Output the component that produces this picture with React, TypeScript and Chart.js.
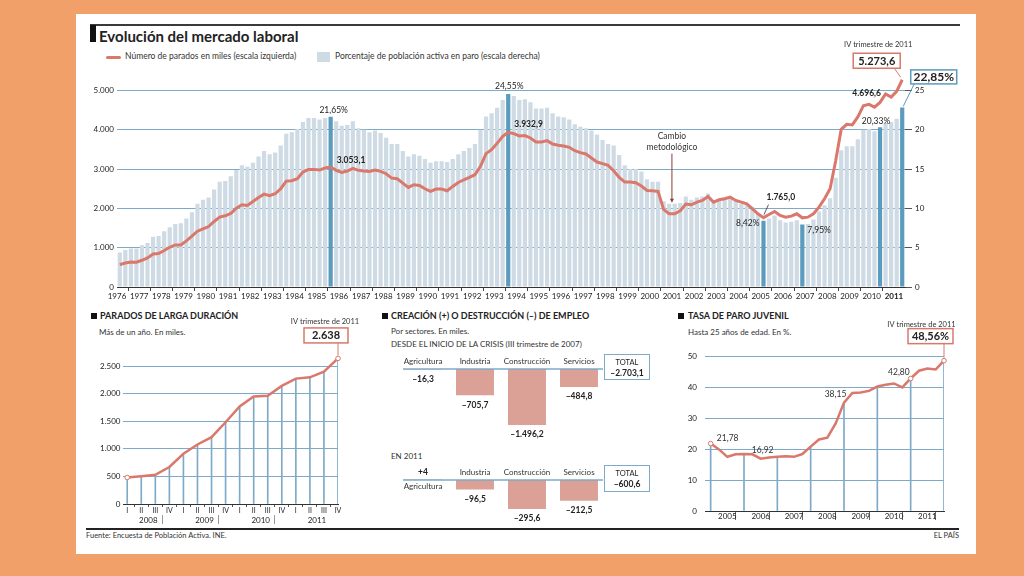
import React, { useEffect, useRef } from 'react';
import { Chart, registerables } from 'chart.js';

Chart.register(...registerables);

const FONT = 'Lato, "Open Sans", "DejaVu Sans", sans-serif';
const ORANGE = '#f0a068';
const RED = '#d9786b';
const LIGHT_BAR = '#cfdbe4';
const HL_BAR = '#5b9bbe';
const GRID = '#7eaac8';
const INK = '#222';
const SECTOR_BAR = '#dba096';

// ---------------- Main chart data (quarterly, 1976-III .. 2011-IV) ----------------
const ROMAN = ['I', 'II', 'III', 'IV'];
const MAIN_YEARS = Array.from({ length: 36 }, (_, i) => String(1976 + i));
const MAIN_LABELS: string[] = [];
MAIN_YEARS.forEach((y, yi) =>
  ROMAN.forEach((q, qi) => {
    if (yi === 0 && qi < 2) return;
    MAIN_LABELS.push(`${y}-${q}`);
  })
);

// Número de parados en miles (escala izquierda)
const UNEMPLOYED = [
  570, 612,
  638, 629, 680, 740,
  842, 850, 927, 1012,
  1071, 1071, 1173, 1292,
  1420, 1480, 1539, 1667,
  1777, 1811, 1871, 2007,
  2092, 2075, 2177, 2279,
  2364, 2321, 2372, 2500,
  2695, 2704, 2755, 2925,
  2993, 2993, 2976, 3027,
  3053.1, 2968, 2917, 2950,
  3019, 2968, 2950, 2942,
  2976, 2942, 2882, 2772,
  2755, 2644, 2534, 2602,
  2585, 2500, 2432, 2491,
  2491, 2449, 2559, 2661,
  2729, 2789, 2857, 3070,
  3393, 3495, 3656, 3835,
  3932.9, 3903, 3843, 3852,
  3792, 3690, 3690, 3724,
  3639, 3605, 3588, 3554,
  3469, 3418, 3384, 3282,
  3180, 3138, 3095, 2959,
  2789, 2670, 2670, 2653,
  2568, 2457, 2449, 2432,
  1973, 1862, 1862, 1939,
  2109, 2092, 2160, 2202,
  2304, 2160, 2219, 2245,
  2287, 2202, 2160, 2117,
  1990, 1862, 1765.0, 1845,
  1922, 1820, 1777, 1803,
  1862, 1760, 1777, 1862,
  2032, 2245, 2500, 3208,
  4011, 4138, 4123, 4327,
  4613, 4646, 4575, 4696.6,
  4910, 4834, 4978, 5273.6,
];

// Porcentaje de población activa en paro (escala derecha)
const RATE = [
  4.4, 4.7,
  4.9, 4.9, 5.3, 5.6,
  6.4, 6.5, 7.1, 7.6,
  8.0, 8.1, 8.7, 9.5,
  10.6, 11.1, 11.4, 12.4,
  13.4, 13.5, 14.1, 14.9,
  15.5, 15.3, 15.8, 16.6,
  17.3, 16.9, 17.1, 18.0,
  19.5, 19.7, 20.1, 21.0,
  21.5, 21.5, 21.3, 21.5,
  21.65, 21.1, 20.5, 20.6,
  21.1, 20.2, 20.0, 19.7,
  19.9, 19.6, 19.0, 18.2,
  18.2, 17.3, 16.6, 16.9,
  16.7, 16.3, 15.8, 16.0,
  16.0, 15.9, 16.3, 16.9,
  17.3, 17.7, 18.2, 20.0,
  21.7, 22.1, 22.8, 23.8,
  24.55, 24.3, 23.8, 23.9,
  23.5, 22.7, 22.7, 22.8,
  22.1, 21.7, 21.6, 21.3,
  20.7, 20.4, 20.2, 19.9,
  19.4, 18.7, 18.2, 18.0,
  16.8, 15.5, 15.0, 15.0,
  14.7, 13.7, 13.4, 13.4,
  10.9, 10.6, 10.6, 10.7,
  11.5, 11.1, 11.4, 11.5,
  11.9, 10.9, 11.0, 11.3,
  11.4, 10.9, 10.6, 10.5,
  10.2, 9.3, 8.42, 8.7,
  9.1, 8.5, 8.2, 8.3,
  8.5, 7.95, 8.0, 8.6,
  9.6, 10.4, 11.3, 13.9,
  17.4, 17.9, 17.9, 18.8,
  20.0, 20.1, 19.8, 20.33,
  20.9, 21.0, 21.4, 22.85,
];

const HIGHLIGHTED = ['1986-I', '1994-I', '2005-III', '2007-II', '2010-IV', '2011-IV'];
const MAIN_LEFT_TICKS = [0, 1000, 2000, 3000, 4000, 5000];
const MAIN_RIGHT_TICKS = [0, 5, 10, 15, 20, 25];

// ---------------- Parados de larga duración ----------------
const LT_YEARS = ['2008', '2009', '2010', '2011'];
const LT_QUARTERS = ['I', 'II', 'III', 'IV', 'I', 'II', 'III', 'IV', 'I', 'II', 'III', 'IV', 'I', 'II', 'III', 'IV'];
const LONG_TERM = [480, 504, 528, 671, 911, 1079, 1211, 1481, 1768, 1948, 1960, 2140, 2272, 2296, 2398, 2638];
const LT_TICKS = [0, 500, 1000, 1500, 2000, 2500];

// ---------------- Creación / destrucción de empleo ----------------
const SECTORS = ['Agricultura', 'Industria', 'Construcción', 'Servicios'];
const CRISIS_CHANGE = [-16.3, -705.7, -1496.2, -484.8];
const CRISIS_TOTAL = -2703.1;
const CHANGE_2011 = [4, -96.5, -295.6, -212.5];
const TOTAL_2011 = -600.6;

// ---------------- Tasa de paro juvenil ----------------
const YOUTH_YEARS = ['2005', '2006', '2007', '2008', '2009', '2010', '2011'];
const YOUTH_RATE = [
  21.78, 19.9, 17.5, 18.3, 18.4, 18.3, 16.92, 17.3, 17.5, 17.7, 17.5, 18.4, 20.8, 23.1, 23.7,
  28.3, 35.0, 38.15, 38.3, 38.8, 40.2, 40.8, 41.2, 39.9, 42.8, 45.3, 46.0, 45.7, 48.56,
];
const YOUTH_LABELED = [0, 6, 17, 24];
const YOUTH_TICKS = [0, 10, 20, 30, 40, 50];

// ---------------- helpers ----------------
function fmtEs(v: number, dec: number, sign = false) {
  const neg = v < 0;
  const s = Math.abs(v).toFixed(dec);
  const parts = s.split('.');
  const int = parts[0].replace(/\B(?=(\d{3})+(?!\d))/g, '.');
  let out = parts[1] ? int + ',' + parts[1] : int;
  if (neg) out = '\u2013' + out;
  else if (sign && v > 0) out = '+' + out;
  return out;
}

function txt(ctx: any, s: string, x: number, y: number, o: any = {}) {
  ctx.save();
  ctx.font = `${o.bold ? 'bold ' : ''}${o.size ?? 8.5}px ${FONT}`;
  ctx.fillStyle = o.color ?? INK;
  ctx.textAlign = o.align ?? 'center';
  ctx.textBaseline = 'middle';
  ctx.fillText(s, x, y);
  ctx.restore();
}

function seg(ctx: any, x1: number, y1: number, x2: number, y2: number, color: string, w = 1) {
  ctx.save();
  ctx.strokeStyle = color;
  ctx.lineWidth = w;
  ctx.beginPath();
  ctx.moveTo(x1, y1);
  ctx.lineTo(x2, y2);
  ctx.stroke();
  ctx.restore();
}

function callout(ctx: any, cx: number, cy: number, w: number, h: number, border: string, s: string, size: number) {
  ctx.save();
  ctx.fillStyle = '#fff';
  ctx.fillRect(cx - w / 2, cy - h / 2, w, h);
  ctx.strokeStyle = border;
  ctx.lineWidth = 1.5;
  ctx.strokeRect(cx - w / 2, cy - h / 2, w, h);
  ctx.restore();
  txt(ctx, s, cx, cy + 0.5, { bold: true, size });
}

const TRANSPARENT = 'rgba(0,0,0,0)';

// ---------------- chart configs ----------------
const mainAnnotations = {
  id: 'mainAnn',
  afterDatasetsDraw(chart: any) {
    const ctx = chart.ctx;
    const bar = (i: number) => chart.getDatasetMeta(0).data[i];
    const pt = (i: number) => chart.getDatasetMeta(1).data[i];
    const I = (lab: string) => MAIN_LABELS.indexOf(lab);
    const pct = (i: number) => fmtEs(RATE[i], 2) + '%';
    const val = (i: number) => fmtEs(UNEMPLOYED[i], 1);

    let i = I('1986-I');
    txt(ctx, pct(i), bar(i).x + 3, bar(i).y - 7);
    txt(ctx, val(i), pt(i).x + 6, pt(i).y - 7, { bold: true, align: 'left' });

    i = I('1994-I');
    txt(ctx, pct(i), bar(i).x + 1, bar(i).y - 8);
    txt(ctx, val(i), pt(i).x + 6, pt(i).y - 8, { bold: true, align: 'left' });

    const a = bar(I('2001-II'));
    const b = bar(I('2001-III'));
    const cx = (a.x + b.x) / 2;
    const top = Math.min(a.y, b.y);
    txt(ctx, 'Cambio', cx, top - 67, { color: '#333' });
    txt(ctx, 'metodológico', cx, top - 56, { color: '#333' });
    seg(ctx, cx, top - 50, cx, top - 3, '#8a3b33', 1);
    ctx.save();
    ctx.fillStyle = '#8a3b33';
    ctx.beginPath();
    ctx.moveTo(cx - 2, top - 5);
    ctx.lineTo(cx + 2, top - 5);
    ctx.lineTo(cx, top - 1);
    ctx.closePath();
    ctx.fill();
    ctx.restore();

    i = I('2005-III');
    txt(ctx, pct(i), bar(i).x - 4, bar(i).y + 2, { align: 'right' });
    txt(ctx, val(i), pt(i).x + 3, pt(i).y - 20, { bold: true, align: 'left' });
    seg(ctx, pt(i).x + 0.5, pt(i).y - 3, pt(i).x + 5, pt(i).y - 13, '#333', 0.8);

    i = I('2007-II');
    txt(ctx, pct(i), bar(i).x + 5, bar(i).y + 6, { align: 'left' });

    i = I('2010-IV');
    txt(ctx, pct(i), bar(i).x - 4, bar(i).y - 6);
    txt(ctx, val(i), pt(i).x + 1, pt(i).y - 9, { bold: true, align: 'right' });

    i = MAIN_LABELS.length - 1;
    const [yr, q] = MAIN_LABELS[i].split('-');
    const p = pt(i);
    txt(ctx, `${q} trimestre de ${yr}`, p.x - 24, p.y - 35, { size: 7.5, color: '#333' });
    seg(ctx, p.x - 8, p.y - 11.5, p.x - 1.5, p.y - 2.5, RED, 1);
    callout(ctx, p.x - 25.5, p.y - 19, 47, 15, RED, val(i), 11);
    const bb = bar(i);
    seg(ctx, bb.x + 12, bb.y - 23.5, bb.x + 1, bb.y - 1, HL_BAR, 1);
    callout(ctx, bb.x + 31.5, bb.y - 30.5, 46, 14, HL_BAR, pct(i), 12);
  },
};

function mainConfig(): any {
  return {
    type: 'bar',
    data: {
      labels: MAIN_LABELS,
      datasets: [
        {
          type: 'bar',
          data: RATE,
          yAxisID: 'y2',
          backgroundColor: (c: any) => (HIGHLIGHTED.includes(MAIN_LABELS[c.dataIndex]) ? HL_BAR : LIGHT_BAR),
          barPercentage: 0.76,
          categoryPercentage: 1,
          order: 2,
        },
        {
          type: 'line',
          data: UNEMPLOYED,
          yAxisID: 'y',
          borderColor: RED,
          borderWidth: 3,
          tension: 0,
          pointRadius: (c: any) => (c.dataIndex === UNEMPLOYED.length - 1 ? 2.5 : 0),
          pointBackgroundColor: '#fff',
          pointBorderColor: RED,
          pointBorderWidth: 1.2,
          clip: false,
          order: 1,
        },
      ],
    },
    options: {
      responsive: false,
      animation: false,
      layout: { padding: { top: 50.5, right: 30, left: 0, bottom: 0 } },
      plugins: { legend: { display: false }, tooltip: { enabled: false } },
      scales: {
        x: {
          type: 'category',
          offset: true,
          grid: {
            offset: true,
            drawOnChartArea: false,
            drawTicks: true,
            tickLength: 4,
            tickColor: (c: any) => {
              if (c.index === undefined || c.index === 0) return TRANSPARENT;
              const lab = MAIN_LABELS[c.index];
              return lab && lab.endsWith('-I') ? '#444' : TRANSPARENT;
            },
          },
          border: { display: true, color: '#333', width: 1 },
          ticks: {
            autoSkip: false,
            maxRotation: 0,
            minRotation: 0,
            labelOffset: -2.77,
            padding: 1,
            color: INK,
            font: (c: any) => ({
              family: FONT,
              size: 8,
              weight: c.tick && c.tick.label === MAIN_YEARS[MAIN_YEARS.length - 1] ? 'bold' : 'normal',
            }),
            callback: (_v: any, i: number) => {
              const [y, q] = MAIN_LABELS[i].split('-');
              return q === 'III' ? y : '';
            },
          },
          afterFit: (s: any) => {
            s.height = 16;
          },
        },
        y: {
          position: 'left',
          min: 0,
          max: 5000,
          afterBuildTicks: (s: any) => {
            s.ticks = MAIN_LEFT_TICKS.map((v) => ({ value: v }));
          },
          grid: { color: GRID, lineWidth: 1, drawTicks: false },
          border: { display: false },
          ticks: { padding: 3, color: INK, font: { family: FONT, size: 8 }, callback: (v: number) => fmtEs(v, 0) },
          afterFit: (s: any) => {
            s.width = 30;
          },
        },
        y2: {
          position: 'right',
          min: 0,
          max: 25,
          afterBuildTicks: (s: any) => {
            s.ticks = MAIN_RIGHT_TICKS.map((v) => ({ value: v }));
          },
          grid: { drawOnChartArea: false, drawTicks: true, tickLength: 7, tickColor: '#555' },
          border: { display: false },
          ticks: { padding: 3, color: INK, font: { family: FONT, size: 8 } },
          afterFit: (s: any) => {
            s.width = 25;
          },
        },
      },
    },
    plugins: [mainAnnotations],
  };
}

function longTermConfig(): any {
  const last = LONG_TERM.length - 1;
  const pts = LONG_TERM.map((v, i) => ({ x: i, y: v }));
  const yearTicks: any[] = [];
  LT_YEARS.forEach((_, j) => {
    yearTicks.push({ value: 4 * j + 1.5 });
    if (j < LT_YEARS.length - 1) yearTicks.push({ value: 4 * j + 3.5 });
  });
  return {
    type: 'bar',
    data: {
      datasets: [
        { type: 'bar', data: pts, backgroundColor: GRID, barThickness: 1, order: 2 },
        {
          type: 'line',
          data: pts,
          borderColor: RED,
          borderWidth: 2.5,
          tension: 0,
          pointRadius: (c: any) => (c.dataIndex === 0 || c.dataIndex === last ? 2.3 : 0),
          pointBackgroundColor: '#fff',
          pointBorderColor: RED,
          pointBorderWidth: 1,
          clip: false,
          order: 1,
        },
      ],
    },
    options: {
      responsive: false,
      animation: false,
      layout: { padding: { top: 40, right: 27, left: 0, bottom: 0 } },
      plugins: { legend: { display: false }, tooltip: { enabled: false } },
      scales: {
        x: {
          type: 'linear',
          offset: false,
          weight: 0,
          min: -0.3,
          max: last,
          afterBuildTicks: (s: any) => {
            s.ticks = LT_QUARTERS.map((_, i) => ({ value: i }));
          },
          grid: { drawOnChartArea: false, drawTicks: true, tickLength: 3, tickColor: '#555' },
          border: { display: true, color: '#333', width: 1 },
          ticks: {
            autoSkip: false,
            maxRotation: 0,
            padding: 0,
            color: INK,
            font: { family: FONT, size: 7 },
            callback: (v: number) => LT_QUARTERS[v] ?? '',
          },
          afterFit: (s: any) => {
            s.height = 11;
          },
        },
        x2: {
          type: 'linear',
          position: 'bottom',
          offset: false,
          weight: 1,
          min: -0.3,
          max: last,
          afterBuildTicks: (s: any) => {
            s.ticks = yearTicks.map((t) => ({ value: t.value }));
          },
          grid: {
            drawOnChartArea: false,
            drawTicks: true,
            tickLength: 9,
            tickColor: (c: any) => (c.tick && (c.tick.value - 3.5) % 4 === 0 ? '#9a9a9a' : TRANSPARENT),
          },
          border: { display: false },
          ticks: {
            autoSkip: false,
            maxRotation: 0,
            padding: -8,
            color: INK,
            font: { family: FONT, size: 8 },
            callback: (v: number) => ((v - 1.5) % 4 === 0 ? LT_YEARS[(v - 1.5) / 4] : ''),
          },
          afterFit: (s: any) => {
            s.height = 13;
          },
        },
        y: {
          min: 0,
          max: 2700,
          afterBuildTicks: (s: any) => {
            s.ticks = LT_TICKS.map((v) => ({ value: v }));
          },
          grid: { color: GRID, lineWidth: 1, drawTicks: false },
          border: { display: false },
          ticks: { padding: 2.5, color: INK, font: { family: FONT, size: 8 }, callback: (v: number) => fmtEs(v, 0) },
          afterFit: (s: any) => {
            s.width = 30;
          },
        },
      },
    },
    plugins: [
      {
        id: 'ltAnn',
        afterDatasetsDraw(chart: any) {
          const ctx = chart.ctx;
          const p = chart.getDatasetMeta(1).data[last];
          const yr = LT_YEARS[LT_YEARS.length - 1];
          txt(ctx, `${LT_QUARTERS[last]} trimestre de ${yr}`, p.x - 13, p.y - 36.5, { size: 7.5, color: '#333' });
          seg(ctx, p.x, p.y - 15.5, p.x, p.y - 3, RED, 1);
          callout(ctx, p.x - 12, p.y - 23, 44, 15, RED, fmtEs(LONG_TERM[last], 0), 11);
        },
      },
    ],
  };
}

function sectorConfig(values: number[], yMin: number, padTop: number): any {
  return {
    type: 'bar',
    data: {
      labels: SECTORS,
      datasets: [
        {
          data: values,
          backgroundColor: SECTOR_BAR,
          barPercentage: 0.73,
          categoryPercentage: 1,
          clip: false,
        },
      ],
    },
    options: {
      responsive: false,
      animation: false,
      layout: { padding: { top: padTop, right: 0, left: 0, bottom: 0 } },
      plugins: { legend: { display: false }, tooltip: { enabled: false } },
      scales: {
        x: { display: false, offset: true },
        y: { display: false, min: yMin, max: 0 },
      },
    },
    plugins: [
      {
        id: 'sectorAnn',
        afterDatasetsDraw(chart: any) {
          const ctx = chart.ctx;
          const y0 = chart.scales.y.getPixelForValue(0);
          const area = chart.chartArea;
          seg(ctx, area.left + 6, y0, area.right - 2, y0, GRID, 1.5);
          chart.getDatasetMeta(0).data.forEach((el: any, i: number) => {
            const v = values[i];
            const s = fmtEs(v, Number.isInteger(v) ? 0 : 1, true);
            if (v >= 0) {
              txt(ctx, s, el.x, y0 - 8, { bold: true });
              txt(ctx, SECTORS[i], el.x, y0 + 6.5, { size: 8, color: '#333' });
            } else {
              txt(ctx, SECTORS[i], el.x, y0 - 8, { size: 8, color: '#333' });
              txt(ctx, s, el.x, Math.max(el.y, y0) + 9.5, { bold: true });
            }
          });
        },
      },
    ],
  };
}

function youthConfig(): any {
  const last = YOUTH_RATE.length - 1;
  const pts = YOUTH_RATE.map((v, i) => ({ x: i, y: v }));
  const drops = YOUTH_RATE.map((v, i) => ({ x: i, y: i % 4 === 0 ? v : null }));
  const marked = [0, 24, last];
  const xt: any[] = [];
  for (let k = 0; k <= last; k += 2) xt.push({ value: k });
  return {
    type: 'bar',
    data: {
      datasets: [
        { type: 'bar', data: drops, backgroundColor: GRID, barThickness: 1, order: 2 },
        {
          type: 'line',
          data: pts,
          borderColor: RED,
          borderWidth: 2.5,
          tension: 0,
          pointRadius: (c: any) => (marked.includes(c.dataIndex) ? 2.3 : 0),
          pointBackgroundColor: '#fff',
          pointBorderColor: RED,
          pointBorderWidth: 1,
          clip: false,
          order: 1,
        },
      ],
    },
    options: {
      responsive: false,
      animation: false,
      layout: { padding: { top: 32, right: 16, left: 0, bottom: 0 } },
      plugins: { legend: { display: false }, tooltip: { enabled: false } },
      scales: {
        x: {
          type: 'linear',
          offset: false,
          min: -0.68,
          max: last,
          afterBuildTicks: (s: any) => {
            s.ticks = xt.map((t) => ({ value: t.value }));
          },
          grid: {
            drawOnChartArea: false,
            drawTicks: true,
            tickLength: 9,
            tickColor: (c: any) => (c.tick && c.tick.value % 4 === 0 ? '#666' : TRANSPARENT),
          },
          border: { display: true, color: '#333', width: 1 },
          ticks: {
            autoSkip: false,
            maxRotation: 0,
            padding: -8,
            color: INK,
            font: { family: FONT, size: 8 },
            callback: (v: number) => (v % 4 === 2 ? YOUTH_YEARS[(v - 2) / 4] : ''),
          },
          afterFit: (s: any) => {
            s.height = 14;
          },
        },
        y: {
          min: 0,
          max: 52,
          afterBuildTicks: (s: any) => {
            s.ticks = YOUTH_TICKS.map((v) => ({ value: v }));
          },
          grid: { color: GRID, lineWidth: 1, drawTicks: false },
          border: { display: false },
          ticks: { padding: 8, color: INK, font: { family: FONT, size: 8 } },
          afterFit: (s: any) => {
            s.width = 20;
          },
        },
      },
    },
    plugins: [
      {
        id: 'youthAnn',
        afterDatasetsDraw(chart: any) {
          const ctx = chart.ctx;
          const pt = (i: number) => chart.getDatasetMeta(1).data[i];
          const f = (i: number) => fmtEs(YOUTH_RATE[i], 2);
          const [k0, k1, k2, k3] = YOUTH_LABELED;
          txt(ctx, f(k0), pt(k0).x + 17, pt(k0).y - 5, { color: '#333' });
          txt(ctx, f(k1), pt(k1).x + 2, pt(k1).y - 8, { color: '#333' });
          txt(ctx, f(k2), pt(k2).x - 6, pt(k2).y + 1, { color: '#333', align: 'right' });
          txt(ctx, f(k3), pt(k3).x - 1, pt(k3).y - 6, { color: '#333', align: 'right' });
          const p = pt(last);
          txt(ctx, `IV trimestre de ${YOUTH_YEARS[YOUTH_YEARS.length - 1]}`, p.x - 22.5, p.y - 36.5, {
            size: 7.5,
            color: '#333',
          });
          seg(ctx, p.x, p.y - 17, p.x, p.y - 3, RED, 1);
          callout(ctx, p.x - 13.5, p.y - 24.5, 45, 15, RED, f(last) + '%', 11);
        },
      },
    ],
  };
}

// ---------------- components ----------------
function ChartCanvas(props: { left: number; top: number; width: number; height: number; make: () => any }) {
  const ref = useRef<HTMLCanvasElement>(null);
  useEffect(() => {
    const chart = new Chart(ref.current as HTMLCanvasElement, props.make());
    return () => chart.destroy();
  }, []);
  return (
    <canvas
      ref={ref}
      width={props.width}
      height={props.height}
      style={{ position: 'absolute', left: props.left, top: props.top, width: props.width, height: props.height }}
    />
  );
}

function T(props: {
  x: number;
  y: number;
  size?: number;
  bold?: boolean;
  align?: 'left' | 'right' | 'center';
  color?: string;
  children: any;
}) {
  const size = props.size ?? 8.5;
  const align = props.align ?? 'left';
  const W = 500;
  const left = align === 'left' ? props.x : align === 'right' ? props.x - W : props.x - W / 2;
  return (
    <div
      style={{
        position: 'absolute',
        left,
        top: props.y - 0.53 * size,
        width: align === 'left' ? undefined : W,
        textAlign: align,
        fontFamily: FONT,
        fontSize: size,
        lineHeight: `${size}px`,
        fontWeight: props.bold ? 700 : 400,
        color: props.color ?? INK,
        whiteSpace: 'nowrap',
      }}
    >
      {props.children}
    </div>
  );
}

function Square(props: { x: number; y: number }) {
  return <div style={{ position: 'absolute', left: props.x, top: props.y, width: 6, height: 6, background: '#111' }} />;
}

function TotalBox(props: { top: number; height: number; value: number }) {
  return (
    <div
      style={{
        position: 'absolute',
        left: 604,
        top: props.top,
        width: 46,
        height: props.height,
        border: `1px solid ${GRID}`,
        boxSizing: 'border-box',
        fontFamily: FONT,
        textAlign: 'center',
        color: INK,
      }}
    >
      <div style={{ fontSize: 7.5, lineHeight: '9px', marginTop: 3 }}>TOTAL</div>
      <div style={{ fontSize: 8.5, fontWeight: 700, lineHeight: '11px', marginTop: 1 }}>{fmtEs(props.value, 1)}</div>
    </div>
  );
}

export default function App() {
  return (
    <div
      style={{
        position: 'fixed',
        left: 0,
        top: 0,
        width: 1024,
        height: 576,
        background: ORANGE,
        overflow: 'hidden',
        fontFamily: FONT,
      }}
    >
      <div style={{ position: 'absolute', left: 76, top: 14, width: 900, height: 540, background: '#fff' }} />
      <div style={{ position: 'absolute', left: 90, top: 24, width: 870, height: 2, background: '#3a3a3a' }} />
      <div style={{ position: 'absolute', left: 90, top: 25, width: 6, height: 17, background: '#111' }} />
      <T x={99} y={36.5} size={15} bold>
        Evolución del mercado laboral
      </T>

      <div style={{ position: 'absolute', left: 106, top: 55.5, width: 15, height: 3, borderRadius: 1.5, background: RED }} />
      <T x={125} y={57} size={8.5} color="#333">
        Número de parados en miles (escala izquierda)
      </T>
      <div style={{ position: 'absolute', left: 317, top: 52, width: 13, height: 10, background: LIGHT_BAR }} />
      <T x={335} y={57} size={8.5} color="#333">
        Porcentaje de población activa en paro (escala derecha)
      </T>

      <ChartCanvas left={87} top={40} width={873} height={263} make={mainConfig} />

      {/* Panel 1 */}
      <Square x={91} y={312.5} />
      <T x={100} y={315.5} size={9} bold>
        PARADOS DE LARGA DURACIÓN
      </T>
      <T x={99} y={332.5} size={8} color="#333">
        Más de un año. En miles.
      </T>
      <ChartCanvas left={93} top={315} width={272} height={213} make={longTermConfig} />

      {/* Panel 2 */}
      <Square x={382} y={312.5} />
      <T x={391} y={315.7} size={9} bold>
        CREACIÓN (+) O DESTRUCCIÓN (–) DE EMPLEO
      </T>
      <T x={391} y={331.7} size={8} color="#333">
        Por sectores. En miles.
      </T>
      <T x={391} y={344} size={8} color="#333">
        DESDE EL INICIO DE LA CRISIS (III trimestre de 2007)
      </T>
      <ChartCanvas left={397} top={350} width={208} height={90} make={() => sectorConfig(CRISIS_CHANGE, -1900, 19)} />
      <TotalBox top={354} height={26} value={CRISIS_TOTAL} />
      <T x={391} y={456.7} size={8} color="#333">
        EN 2011
      </T>
      <ChartCanvas left={397} top={462} width={208} height={60} make={() => sectorConfig(CHANGE_2011, -428, 18)} />
      <TotalBox top={465} height={27} value={TOTAL_2011} />

      {/* Panel 3 */}
      <Square x={678} y={312.5} />
      <T x={688} y={315.7} size={9} bold>
        TASA DE PARO JUVENIL
      </T>
      <T x={688} y={332.7} size={8} color="#333">
        Hasta 25 años de edad. En %.
      </T>
      <ChartCanvas left={685} top={318} width={275} height={207} make={youthConfig} />

      {/* Footer */}
      <div style={{ position: 'absolute', left: 86, top: 527.5, width: 873, height: 2, background: '#222' }} />
      <T x={86} y={535.5} size={7.5} color="#333">
        Fuente: Encuesta de Población Activa. INE.
      </T>
      <T x={959} y={536} size={7.5} align="right" color="#333">
        EL PAÍS
      </T>
    </div>
  );
}
